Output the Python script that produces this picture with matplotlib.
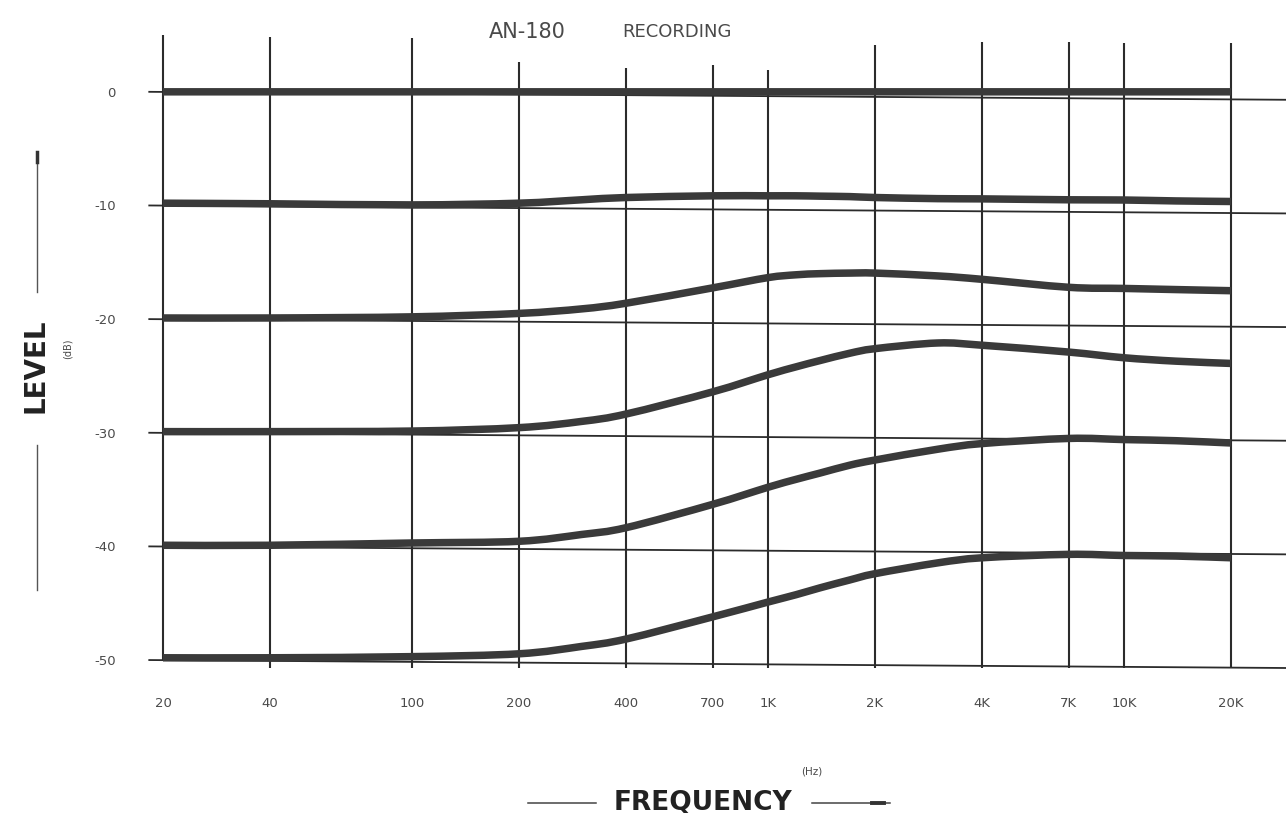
import matplotlib
matplotlib.use("Agg")
import matplotlib.pyplot as plt
import numpy as np
from matplotlib.path import Path
from matplotlib.patches import PathPatch

# ---------------- data ----------------
freqs = [20, 40, 100, 200, 300, 400, 700, 1000, 1200, 1400, 1700, 2000,
         3000, 4000, 7000, 10000, 14000, 20000]

curve_0 = [0.0] * 18
curve_10 = [-9.8, -9.85, -9.95, -9.8, -9.5, -9.3, -9.15, -9.15, -9.15, -9.18,
            -9.22, -9.3, -9.4, -9.42, -9.5, -9.52, -9.6, -9.65]
curve_20 = [-19.9, -19.9, -19.8, -19.5, -19.1, -18.6, -17.25, -16.35, -16.1,
            -16.0, -15.95, -15.95, -16.2, -16.5, -17.2, -17.3, -17.4, -17.5]
curve_30 = [-29.9, -29.9, -29.85, -29.55, -29.0, -28.35, -26.4, -24.9, -24.2,
            -23.65, -23.0, -22.6, -22.1, -22.3, -22.9, -23.4, -23.7, -23.9]
curve_40 = [-39.9, -39.9, -39.7, -39.55, -38.95, -38.35, -36.3, -34.8, -34.1,
            -33.55, -32.85, -32.4, -31.45, -30.95, -30.5, -30.6, -30.7, -30.9]
curve_50 = [-49.8, -49.8, -49.7, -49.45, -48.8, -48.15, -46.2, -44.9, -44.25,
            -43.65, -42.95, -42.4, -41.45, -41.0, -40.7, -40.8, -40.85, -41.0]
curves = [curve_0, curve_10, curve_20, curve_30, curve_40, curve_50]

grid_freqs = [20, 40, 100, 200, 400, 700, 1000, 2000, 4000, 7000, 10000, 20000]
x_labels = ["20", "40", "100", "200", "400", "700", "1K", "2K", "4K", "7K",
            "10K", "20K"]
levels = [0, -10, -20, -30, -40, -50]
y_labels = ["0", "-10", "-20", "-30", "-40", "-50"]

# ---------------- style ----------------
W, H = 1286, 813
fig = plt.figure(figsize=(W / 100, H / 100), dpi=100)
fig.patch.set_facecolor("white")


def fx(px):
    return px / W


def fy(py):
    return 1 - py / H


def smooth_path(xs, ys):
    """Smooth (Catmull-Rom style) Bezier path through the data points,
    built in log-frequency space so it renders correctly on the log axis."""
    lx = np.log10(np.asarray(xs, dtype=float))
    y = np.asarray(ys, dtype=float)
    n = len(lx)
    verts = [(xs[0], ys[0])]
    codes = [Path.MOVETO]
    for i in range(n - 1):
        i0, i3 = max(i - 1, 0), min(i + 2, n - 1)
        c1x = lx[i] + (lx[i + 1] - lx[i0]) / 6
        c1y = y[i] + (y[i + 1] - y[i0]) / 6
        c2x = lx[i + 1] - (lx[i3] - lx[i]) / 6
        c2y = y[i + 1] - (y[i3] - y[i]) / 6
        verts += [(10 ** c1x, c1y), (10 ** c2x, c2y), (xs[i + 1], ys[i + 1])]
        codes += [Path.CURVE4] * 3
    return Path(verts, codes)


ax = fig.add_axes([fx(163), fy(668), fx(1286 - 163), (668 - 35) / H])
ax.set_xscale("log")
ax.set_xlim(20, 28540)
ax.set_ylim(-50.7, 5.0)
for s in ax.spines.values():
    s.set_visible(False)
ax.set_facecolor("none")

grid_col = "#2b2b2b"
curve_col = "#3a3a3a"
text_col = "#4a4a4a"

# vertical grid lines (tops are shortened under the title)
v_tops = [5.0, 4.8, 4.75, 2.6, 2.1, 2.4, 1.9, 4.1, 4.4, 4.4, 4.3, 4.3]
for f, top in zip(grid_freqs, v_tops):
    bottom = -50.0 if f == 20 else -50.7
    ax.plot([f, f], [bottom, top], color=grid_col, lw=1.5,
            solid_capstyle="butt", clip_on=False, zorder=2)

# horizontal grid lines (printed slightly tilted), with small left ticks
for lv in levels:
    ax.plot([18.3, 28540], [lv, lv - 0.7], color=grid_col, lw=1.3,
            clip_on=False, zorder=2)

# response curves
for c in curves:
    patch = PathPatch(smooth_path(freqs, c), fill=False, edgecolor=curve_col,
                      lw=5.4, capstyle="butt", joinstyle="round", zorder=3)
    ax.add_patch(patch)

# ticks / labels
ax.set_xticks(grid_freqs)
ax.set_xticklabels(x_labels)
ax.xaxis.set_minor_locator(matplotlib.ticker.NullLocator())
ax.tick_params(axis="x", length=0, pad=21, labelsize=9.5,
               labelcolor=text_col)
ax.set_yticks(levels)
ax.set_yticklabels(y_labels)
ax.tick_params(axis="y", length=0, pad=34, labelsize=9.5,
               labelcolor=text_col)
for t in ax.get_yticklabels():
    t.set_horizontalalignment("right")

# title
fig.text(fx(527), fy(32), "AN-180", ha="center", va="center",
         fontsize=15, color=text_col)
fig.text(fx(677), fy(32), "RECORDING", ha="center", va="center",
         fontsize=13, color=text_col)

# y-axis label
fig.text(fx(36), fy(366), "LEVEL", rotation=90, ha="center", va="center",
         fontsize=20, fontweight="bold", color="#222222")
fig.text(fx(68), fy(349), "(dB)", rotation=90, ha="center", va="center",
         fontsize=7, color=text_col)
fig.add_artist(plt.Line2D([fx(37), fx(37)], [fy(152), fy(292)],
                          color="#555555", lw=1.0))
fig.add_artist(plt.Line2D([fx(37), fx(37)], [fy(152), fy(162)],
                          color="#333333", lw=2.5))
fig.add_artist(plt.Line2D([fx(37), fx(37)], [fy(445), fy(590)],
                          color="#555555", lw=1.0))

# x-axis label
fig.text(fx(812), fy(771), "(Hz)", ha="center", va="center",
         fontsize=7.5, color=text_col)
fig.text(fx(703), fy(802), "FREQUENCY", ha="center", va="center",
         fontsize=19, fontweight="bold", color="#222222")
fig.add_artist(plt.Line2D([fx(528), fx(596)], [fy(803), fy(803)],
                          color="#444444", lw=1.1))
fig.add_artist(plt.Line2D([fx(812), fx(890)], [fy(803), fy(803)],
                          color="#444444", lw=1.1))
fig.add_artist(plt.Line2D([fx(872), fx(884)], [fy(803), fy(803)],
                          color="#333333", lw=2.8))

fig.savefig("out.png", dpi=100, facecolor="white")
